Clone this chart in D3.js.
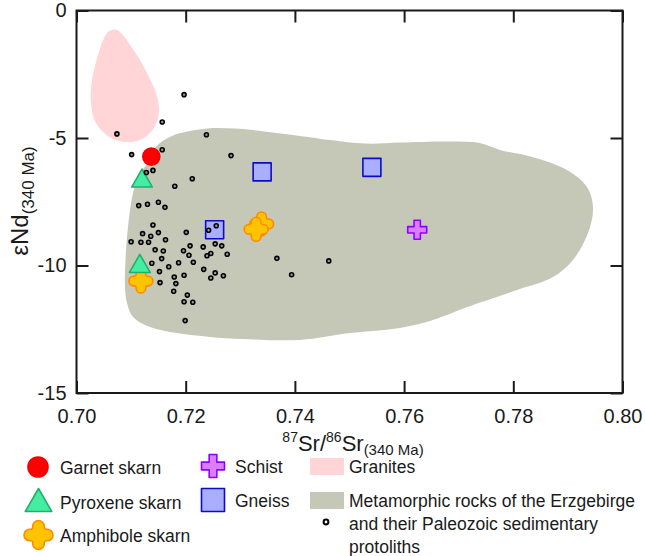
<!DOCTYPE html>
<html>
<head>
<meta charset="utf-8">
<script src="https://cdn.jsdelivr.net/npm/d3@7"></script>
<style>
  body { margin: 0; background: #fff; }
  svg { display: block; }
  text { font-family: Arial, "Liberation Sans", sans-serif; fill: #1a1a1a; }
</style>
</head>
<body>
<svg id="chart" width="645" height="556"></svg>
<script>
// Axis ticks
const xTicks = [0.70, 0.72, 0.74, 0.76, 0.78, 0.80];
const yTicks = [0, -5, -10, -15];

// Skarn and host-rock samples (87Sr/86Sr and εNd at 340 Ma)
const garnetSr = [0.7137];
const garnetNd = [-5.73];
const pyroxeneSr = [0.7120, 0.7116];
const pyroxeneNd = [-6.57, -9.92];
const amphiboleSr = [0.7339, 0.7329, 0.7118];
const amphiboleNd = [-8.37, -8.58, -10.61];
const schistSr = [0.7624];
const schistNd = [-8.60];
const gneissSr = [0.7253, 0.7340, 0.7541];
const gneissNd = [-8.60, -6.33, -6.15];

// Metamorphic rocks of the Erzgebirge and their protoliths
const protolithSr = [0.7197,0.7157,0.7074,0.7238,0.7101,0.7157,0.7283,0.7128,0.7140,0.7212,
  0.7180,0.7114,0.7130,0.7150,0.7162,0.7140,0.7121,0.7136,0.7150,0.7163,
  0.7100,0.7118,0.7132,0.7201,0.7242,0.7256,0.7144,0.7159,0.7196,0.7208,
  0.7206,0.7232,0.7254,0.7266,0.7246,0.7239,0.7276,0.7156,0.7138,0.7187,
  0.7214,0.7169,0.7233,0.7254,0.7269,0.7246,0.7152,0.7179,0.7197,0.7153,
  0.7182,0.7178,0.7203,0.7197,0.7213,0.7199,0.7367,0.7394,0.7462];
const protolithNd = [-3.30,-4.37,-4.84,-4.87,-5.65,-5.46,-5.69,-6.35,-6.27,-6.60,
  -6.89,-7.65,-7.60,-7.52,-7.72,-8.41,-8.75,-8.85,-8.71,-8.99,
  -9.07,-9.09,-9.09,-8.70,-8.62,-8.44,-9.38,-9.43,-9.42,-9.23,
  -9.60,-9.27,-9.15,-9.23,-9.53,-9.62,-9.56,-9.73,-9.91,-9.89,
  -9.87,-10.05,-10.15,-10.29,-10.40,-10.49,-10.24,-10.45,-10.38,-10.67,
  -10.71,-11.01,-11.16,-11.42,-11.44,-12.16,-9.72,-10.36,-9.82];

// Field outlines
const graniteFieldSr = [0.70668,0.70760,0.70852,0.70980,0.71163,0.71346,0.71474,0.71511,0.71456,0.71310,
  0.71108,0.70907,0.70668,0.70467,0.70321,0.70266,0.70266,0.70321,0.70412,0.70504,0.70577];
const graniteFieldNd = [-0.75,-0.78,-0.96,-1.35,-1.94,-2.69,-3.35,-3.90,-4.45,-4.88,
  -5.12,-5.16,-5.04,-4.73,-4.25,-3.67,-3.04,-2.33,-1.63,-1.08,-0.84];
const metaFieldSr = [0.71273,0.71383,0.71529,0.71749,0.72079,0.72500,0.72903,0.73233,0.74093,0.74643,
  0.75284,0.75925,0.76841,0.77390,0.77756,0.78361,0.78983,0.79350,0.79460,0.79368,
  0.79093,0.78727,0.78068,0.77152,0.76529,0.75925,0.75009,0.74093,0.73050,0.72445,
  0.71841,0.71346,0.71035,0.70925,0.70888,0.70897,0.70943,0.71035,0.71145];
const metaFieldNd = [-6.06,-5.55,-5.20,-4.92,-4.73,-4.61,-4.63,-4.69,-4.92,-5.08,
  -5.22,-5.18,-5.14,-5.20,-5.47,-5.75,-6.25,-6.92,-7.71,-8.73,
  -9.78,-10.45,-10.96,-11.63,-12.14,-12.45,-12.65,-12.92,-12.88,-12.80,
  -12.65,-12.41,-12.02,-11.47,-10.84,-9.78,-8.49,-7.16,-6.45];

// Legend labels
const legendSamples = ["Garnet skarn", "Pyroxene skarn", "Amphibole skarn", "Schist", "Gneiss"];
const legendFields = ["Granites", "Metamorphic rocks of the Erzgebirge"];
const legendDotLines = ["and their Paleozoic sedimentary", "protoliths"];

const COLORS = {
  granite: "#FFD5D7",
  meta: "#C5C8B7",
  garnet: { fill: "#FF0000", stroke: "#F00000" },
  pyroxene: { fill: "#45EDA2", stroke: "#1FB06B" },
  amphibole: { fill: "#FFC400", stroke: "#FF8A00" },
  schist: { fill: "#DA7DFF", stroke: "#8F00FF" },
  gneiss: { fill: "#A9AEFF", stroke: "#0C0CC8" }
};

const svg = d3.select("#chart");
const x = d3.scaleLinear().domain([0.70, 0.80]).range([76.5, 622.5]);
const y = d3.scaleLinear().domain([-15, 0]).range([393, 10.5]);

// Composition fields
const fieldLine = d3.line().x(d => x(d[0])).y(d => y(d[1])).curve(d3.curveCatmullRomClosed.alpha(0.5));
svg.append("path").attr("d", fieldLine(d3.zip(metaFieldSr, metaFieldNd))).attr("fill", COLORS.meta);
svg.append("path").attr("d", fieldLine(d3.zip(graniteFieldSr, graniteFieldNd))).attr("fill", COLORS.granite);

// Axes with inward ticks on all four sides
function styleAxis(g) {
  g.select(".domain").remove();
  g.selectAll(".tick line").attr("stroke", "#1a1a1a").attr("stroke-width", 2);
  g.attr("font-family", null).attr("font-size", 20);
  g.selectAll("text").attr("fill", "#1a1a1a");
}
svg.append("g").attr("transform", "translate(0,393)")
  .call(d3.axisBottom(x).tickValues(xTicks).tickFormat(d3.format(".2f")).tickSizeInner(-12).tickSizeOuter(0).tickPadding(16))
  .call(styleAxis);
svg.append("g").attr("transform", "translate(0,10.5)")
  .call(d3.axisTop(x).tickValues(xTicks).tickFormat("").tickSizeInner(-12).tickSizeOuter(0))
  .call(styleAxis);
svg.append("g").attr("transform", "translate(76.5,0)")
  .call(d3.axisLeft(y).tickValues(yTicks).tickFormat(d => String(d)).tickSizeInner(-12).tickSizeOuter(0).tickPadding(10))
  .call(styleAxis);
svg.append("g").attr("transform", "translate(622.5,0)")
  .call(d3.axisRight(y).tickValues(yTicks).tickFormat("").tickSizeInner(-12).tickSizeOuter(0))
  .call(styleAxis);
svg.append("rect").attr("x", 76.5).attr("y", 10.5).attr("width", 546).attr("height", 382.5)
  .attr("fill", "none").attr("stroke", "#1a1a1a").attr("stroke-width", 2);

// Axis titles
const yTitle = svg.append("text").attr("transform", "translate(28,201) rotate(-90)").attr("text-anchor", "middle");
yTitle.append("tspan").attr("font-size", 24).text("εNd");
yTitle.append("tspan").attr("font-size", 17).attr("dy", 6).text("(340 Ma)");

const xTitle = svg.append("text").attr("x", 353).attr("y", 451).attr("text-anchor", "middle");
xTitle.append("tspan").attr("font-size", 14).attr("dy", -9).text("87");
xTitle.append("tspan").attr("font-size", 22).attr("dy", 9).text("Sr/");
xTitle.append("tspan").attr("font-size", 14).attr("dy", -9).text("86");
xTitle.append("tspan").attr("font-size", 22).attr("dy", 9).text("Sr");
xTitle.append("tspan").attr("font-size", 15).attr("dy", 4).text("(340 Ma)");

// Marker shapes
// Rounded plus: arms end in semicircles, concave inner corners are filleted
function amphibolePath(s) {
  const h = s / 2, a = s * 0.2, f = s * 0.07;
  const c = -h + a;
  const rot = (p, k) => {
    let [px, py] = p;
    for (let i = 0; i < k; i++) [px, py] = [-py, px];
    return [px, py];
  };
  const P = p => p[0].toFixed(2) + "," + p[1].toFixed(2);
  let d = "";
  for (let k = 0; k < 4; k++) {
    const inA = rot([-a - f, -a], k), corner = rot([-a, -a], k), inB = rot([-a, -a - f], k);
    const p2 = rot([-a, c], k), p3 = rot([a, c], k);
    d += (k === 0 ? "M" : "L") + P(inA);
    d += "Q" + P(corner) + " " + P(inB);
    d += "L" + P(p2);
    d += `A${a},${a} 0 0 1 ${P(p3)}`;
  }
  return d + "Z";
}
function crossPath(s) {
  const h = s / 2, a = s / 6;
  return `M${-a},${-h}H${a}V${-a}H${h}V${a}H${a}V${h}H${-a}V${a}H${-h}V${-a}H${-a}Z`;
}
function trianglePath(w, h) {
  return `M0,${-h / 2}L${w / 2},${h / 2}L${-w / 2},${h / 2}Z`;
}
function drawMarker(g, type, cx, cy, s) {
  const st = COLORS[type];
  let el;
  if (type === "garnet") {
    el = g.append("circle").attr("cx", cx).attr("cy", cy).attr("r", s / 2);
  } else if (type === "gneiss") {
    el = g.append("rect").attr("x", cx - s / 2).attr("y", cy - s / 2).attr("width", s).attr("height", s);
  } else {
    let d;
    if (type === "pyroxene") d = trianglePath(s * 1.15, s);
    else if (type === "schist") d = crossPath(s);
    else d = amphibolePath(s);
    el = g.append("path").attr("d", d).attr("transform", `translate(${cx},${cy})`);
  }
  el.attr("fill", st.fill).attr("stroke", st.stroke).attr("stroke-width", 1.6).attr("stroke-linejoin", "round");
}

const marks = svg.append("g");
const sampleSets = [
  ["gneiss", gneissSr, gneissNd, 18],
  ["schist", schistSr, schistNd, 19],
  ["amphibole", amphiboleSr, amphiboleNd, 24],
  ["pyroxene", pyroxeneSr, pyroxeneNd, 18],
  ["garnet", garnetSr, garnetNd, 17]
];
sampleSets.forEach(([type, srs, nds, s]) => {
  srs.forEach((v, i) => drawMarker(marks, type, x(v), y(nds[i]), s));
});

// Protolith data points
svg.append("g").selectAll("circle").data(d3.zip(protolithSr, protolithNd)).join("circle")
  .attr("cx", d => x(d[0])).attr("cy", d => y(d[1])).attr("r", 2)
  .attr("fill", "#9a9a9a").attr("stroke", "#000").attr("stroke-width", 1.6);

// Legend
const leg = svg.append("g").attr("font-size", 17.5);
const legMarkers = [
  ["garnet", 38, 467, 20],
  ["pyroxene", 38.5, 500, 23],
  ["amphibole", 38.5, 535, 29],
  ["schist", 213, 466, 23],
  ["gneiss", 213, 500, 23]
];
const legTextPos = [[60, 473.5], [60, 508.5], [60, 541.5], [235, 472.5], [235, 506.5]];
legMarkers.forEach(([type, cx, cy, s]) => drawMarker(leg, type, cx, cy, s));
legendSamples.forEach((t, i) => leg.append("text").attr("x", legTextPos[i][0]).attr("y", legTextPos[i][1]).text(t));

leg.append("rect").attr("x", 310).attr("y", 458).attr("width", 34).attr("height", 17).attr("fill", COLORS.granite);
leg.append("rect").attr("x", 310).attr("y", 492).attr("width", 34).attr("height", 17).attr("fill", COLORS.meta);
leg.append("text").attr("x", 349).attr("y", 472.5).text(legendFields[0]);
leg.append("text").attr("x", 349).attr("y", 506.5).text(legendFields[1]);
legendDotLines.forEach((t, i) => leg.append("text").attr("x", 349).attr("y", 529.5 + i * 23).text(t));
leg.append("circle").attr("cx", 326).attr("cy", 522).attr("r", 2.4)
  .attr("fill", "#fff").attr("stroke", "#000").attr("stroke-width", 2);
</script>
</body>
</html>
